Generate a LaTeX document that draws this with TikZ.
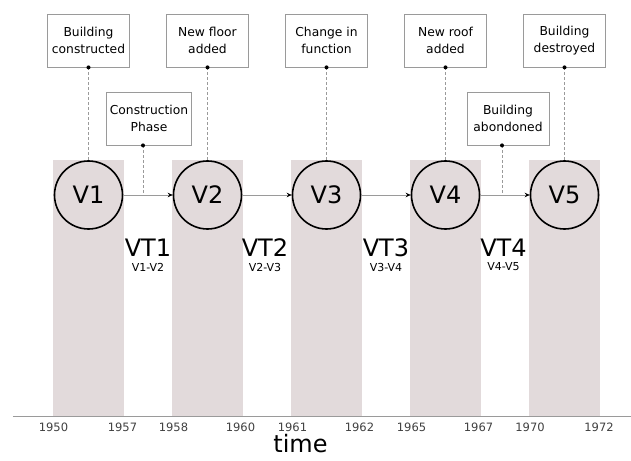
\documentclass[tikz,border=0pt]{standalone}
\usepackage{fontspec}
\setmainfont{DejaVu Sans}
\usetikzlibrary{positioning,arrows.meta}
\definecolor{phase}{HTML}{E2DADB}
\definecolor{rule}{HTML}{9A9A9A}
\tikzset{
  >={Stealth[length=5pt,width=4.5pt,black]},
  version/.style={draw, circle, line width=1.6pt, minimum size=68pt, inner sep=0pt, font=\fontsize{24}{24}\selectfont},
  event/.style={draw=rule, thick, minimum width=82pt, minimum height=53pt, align=center, font=\fontsize{12.3}{16.5}\selectfont},
  link/.style={rule, densely dashed, thin},
  dot/.style={circle, fill=black, inner sep=0pt, minimum size=4pt},
  step arrow/.style={->, rule, thick},
  year/.style={text=black!75, font=\fontsize{11.5}{12}\selectfont},
}

\begin{document}
\begin{tikzpicture}[x=1pt, y=1pt, node distance=119pt]
    \useasboundingbox (-88.5,195) rectangle (542.5,-265);
    % phase columns and time axis
    \foreach \c in {0,119,238,357,476}
      \fill[phase] (\c-35.5,35) rectangle (\c+35.5,-221);
    \draw[rule, thick] (-75.5,-221) -- (542.5,-221);
    \node[year] (y1) at (-35,-232) {1950};
    \node[year] (y2) at (34,-232) {1957};
    \node[year] (y3) at (85,-232) {1958};
    \node[year] (y4) at (152,-232) {1960};
    \node[year] (y5) at (204,-232) {1961};
    \node[year] (y6) at (271,-232) {1962};
    \node[year] (y7) at (323,-232) {1965};
    \node[year] (y8) at (390,-232) {1967};
    \node[year] (y9) at (441.5,-232) {1970};
    \node[year] (y10) at (510.5,-232) {1972};
    \node[font=\fontsize{24}{24}\selectfont, inner sep=0pt] (time) at (212,-249) {time};

    % versions
    \node[version]            (v1) {V1};
    \node[version]            (v2) [right of=v1] {V2};
    \node[version]            (v3) [right of=v2] {V3};
    \node[version]            (v4) [right of=v3] {V4};
    \node[version]            (v5) [right of=v4] {V5};
    \path
      (v1) edge [step arrow] (v2)
      (v2) edge [step arrow] (v3)
      (v3) edge [step arrow] (v4)
      (v4) edge [step arrow] (v5);

    % transitions
    \node (vt1) at (59.5,-53)  {\fontsize{24}{24}\selectfont VT1};
    \node (vt2) at (176.5,-53) {\fontsize{24}{24}\selectfont VT2};
    \node (vt3) at (297.5,-53) {\fontsize{24}{24}\selectfont VT3};
    \node (vt4) at (415,-53) {\fontsize{24}{24}\selectfont VT4};
    \node[font=\fontsize{11}{11}\selectfont] (s1) at (59.5,-72)  {V1-V2};
    \node[font=\fontsize{11}{11}\selectfont] (s2) at (176.5,-72) {V2-V3};
    \node[font=\fontsize{11}{11}\selectfont] (s3) at (297.5,-72) {V3-V4};
    \node[font=\fontsize{11}{11}\selectfont] (s4) at (415,-72) {V4-V5};

    % events
    \node[event] (e1) [above of=v1, node distance=154.5pt] {Building\\constructed};
    \node[event] (e2) [above of=v2, node distance=154.5pt] {New floor\\added};
    \node[event] (e3) [above of=v3, node distance=154.5pt] {Change in\\function};
    \node[event] (e4) [above of=v4, node distance=154.5pt] {New roof\\added};
    \node[event] (e5) [above of=v5, node distance=154.5pt] {Building\\destroyed};
    \node[event] (c1) at (60.5,76.5)  {Construction\\Phase};
    \node[event] (c2) at (419.5,76.5) {Building\\abondoned};

    \foreach \n in {1,...,5} {
      \draw[link] (e\n.south) -- (v\n.north);
      \node[dot] at (e\n.south) {};
    }
    \coordinate (t1) at (54.5,0);
    \coordinate (t2) at (413.5,0);
    \draw[link] (t1 |- c1.south) -- (t1);
    \node[dot] at (t1 |- c1.south) {};
    \draw[link] (t2 |- c2.south) -- (t2);
    \node[dot] at (t2 |- c2.south) {};
  \end{tikzpicture}
\end{document}
